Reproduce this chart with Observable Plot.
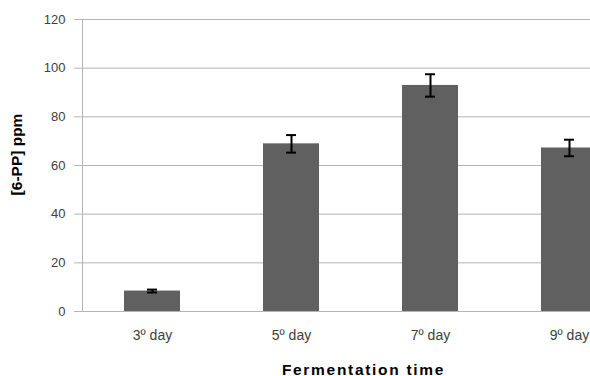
<!DOCTYPE html>
<html>
<head>
<meta charset="utf-8">
<script src="https://cdn.jsdelivr.net/npm/d3@7"></script>
<script src="https://cdn.jsdelivr.net/npm/@observablehq/plot@0.6"></script>
<style>
  html, body { margin: 0; padding: 0; background: #fff; overflow: hidden; }
  svg { overflow: hidden; }
</style>
</head>
<body>
<div id="chart"></div>
<script>
const days = ["3º day", "5º day", "7º day", "9º day"];
const means = [8.4, 68.9, 92.9, 67.2];
const errors = [0.6, 3.6, 4.6, 3.4];
const yTicks = [0, 20, 40, 60, 80, 100, 120];
const xTitle = "Fermentation time";
const yTitle = "[6-PP] ppm";

const data = days.map((d, i) => ({day: d, value: means[i], lo: means[i] - errors[i], hi: means[i] + errors[i]}));

const gridColor = "#b4b4b4";

const chart = Plot.plot({
  width: 590,
  height: 376,
  marginLeft: 82,
  marginRight: 0,
  marginTop: 19,
  marginBottom: 65,
  style: {fontFamily: "'Liberation Sans', Arial, sans-serif", background: "#fff", overflow: "hidden"},
  x: {domain: days, range: [82, 638], paddingInner: 0.6, paddingOuter: 0.3, align: 0.5},
  y: {domain: [0, 120]},
  marks: [
    Plot.ruleY(yTicks, {stroke: gridColor, strokeWidth: 1}),
    Plot.frame({anchor: "left", stroke: gridColor}),
    Plot.barY(data, {x: "day", y: "value", fill: "#606060"}),
    Plot.ruleX(data, {x: "day", y1: "lo", y2: "hi", stroke: "#000", strokeWidth: 2}),
    Plot.tickY(data, {x: "day", y: "lo", stroke: "#000", strokeWidth: 2, insetLeft: 23, insetRight: 23}),
    Plot.tickY(data, {x: "day", y: "hi", stroke: "#000", strokeWidth: 2, insetLeft: 23, insetRight: 23}),
    Plot.axisY({ticks: yTicks, tickSize: 8, tickPadding: 9, stroke: gridColor, fill: "#404040", fontSize: 13, label: null}),
    Plot.axisX({tickSize: 0, tickPadding: 19, fill: "#404040", fontSize: 14, label: null}),
    Plot.text([xTitle], {frameAnchor: "bottom", textAnchor: "middle", dx: 27, dy: 63, lineAnchor: "bottom", fontSize: 15.5, fontWeight: "bold", fill: "#000"}),
    Plot.text([yTitle], {frameAnchor: "left", textAnchor: "middle", dx: -65, dy: -11, rotate: -90, fontSize: 15.5, fontWeight: "bold", fill: "#000"})
  ]
});
d3.select(chart).selectAll("text")
  .filter(function () { return this.textContent === xTitle; })
  .style("letter-spacing", "1.7px");
document.getElementById("chart").appendChild(chart);
</script>
</body>
</html>
